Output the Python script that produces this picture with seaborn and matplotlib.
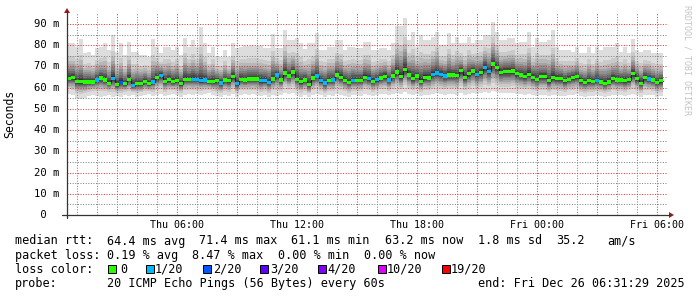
import numpy as np
import pandas as pd
import matplotlib
matplotlib.use("Agg")
import matplotlib.pyplot as plt
import seaborn as sns
from matplotlib.patches import Rectangle
from matplotlib.transforms import blended_transform_factory

# ---------------- data ----------------
median_ms = [64.4, 64.7, 63.0, 62.9, 62.7, 62.7, 62.7, 63.6, 64.6, 63.6,
             62.1, 64.3, 61.4, 62.5, 61.8, 64.0, 61.0, 61.8, 61.8, 63.0,
             61.8, 62.7, 64.9, 65.7, 62.9, 63.8, 62.9, 63.3, 61.8, 64.0,
             64.0, 64.0, 64.0, 63.3, 63.6, 62.9, 62.9, 63.3, 62.2, 63.6,
             63.3, 65.2, 61.8, 64.0, 63.6, 64.1, 64.1, 64.1, 63.3, 63.3,
             62.5, 64.1, 66.0, 63.6, 66.9, 65.5, 67.4, 64.0, 62.9, 63.6,
             61.4, 64.6, 65.5, 63.3, 62.2, 63.5, 63.6, 66.0, 64.9, 63.5,
             62.5, 63.5, 63.5, 63.5, 64.9, 64.3, 63.0, 63.8, 64.6, 65.4,
             63.6, 65.5, 67.4, 65.2, 68.7, 66.0, 64.4, 65.5, 63.0, 64.9,
             64.6, 66.3, 66.9, 66.3, 65.5, 66.0, 66.0, 65.7, 68.0, 64.9,
             66.5, 67.9, 66.3, 67.1, 69.6, 67.7, 71.2, 69.4, 67.1, 67.6,
             67.6, 67.9, 66.5, 66.0, 65.4, 66.2, 64.9, 64.0, 65.1, 65.1,
             63.3, 64.7, 64.4, 64.3, 63.3, 64.0, 64.7, 65.2, 63.3, 62.4,
             63.3, 62.9, 63.5, 62.7, 62.1, 62.7, 64.3, 63.6, 63.6, 63.3,
             63.8, 66.5, 64.3, 62.1, 64.9, 64.1, 63.6, 62.4, 63.2]

max_ms = [80.9, 80.9, 79.4, 82.9, 76.2, 77.0, 75.4, 78.6, 79.4, 81.2,
          77.8, 84.8, 77.0, 80.9, 75.4, 81.7, 77.0, 77.0, 75.4, 75.4,
          74.6, 82.8, 79.4, 76.2, 79.4, 79.4, 77.8, 79.4, 75.4, 83.6,
          79.4, 82.5, 79.4, 88.8, 80.9, 76.2, 79.4, 74.6, 74.6, 77.8,
          74.6, 80.9, 78.6, 79.4, 79.6, 79.6, 79.6, 79.6, 79.6, 78.6,
          78.6, 85.1, 78.6, 78.6, 87.2, 82.5, 82.5, 83.3, 80.9, 78.1,
          80.9, 80.9, 85.6, 77.8, 77.8, 79.4, 79.4, 82.5, 82.5, 77.8,
          79.4, 79.4, 78.6, 78.6, 81.7, 81.7, 77.8, 77.8, 78.6, 78.6,
          77.8, 81.2, 89.1, 89.1, 92.7, 82.5, 86.4, 79.4, 84.8, 82.5,
          82.5, 84.0, 86.4, 80.1, 80.1, 85.6, 80.9, 84.0, 80.9, 80.9,
          84.0, 80.9, 82.5, 82.5, 84.8, 84.8, 91.1, 86.4, 82.5, 82.5,
          83.3, 83.3, 80.9, 81.7, 81.7, 86.4, 79.4, 83.3, 81.7, 81.7,
          82.5, 87.2, 79.4, 77.8, 77.8, 77.8, 77.0, 79.4, 76.2, 76.2,
          79.4, 76.2, 79.4, 77.8, 79.4, 79.4, 79.4, 80.9, 77.0, 79.4,
          76.2, 82.8, 77.8, 77.0, 77.8, 77.8, 76.2, 76.2, 76.2]

min_ms = [57.0, 56.5, 55.0, 54.5, 55.0, 56.0, 56.5, 56.0, 55.5, 56.0,
          56.5, 55.5, 56.0, 55.5, 56.5, 56.0, 56.5, 55.5, 56.0, 56.5,
          57.0, 56.0, 56.5, 57.0, 56.0, 56.5, 57.0, 56.5, 55.5, 56.5,
          57.0, 56.5, 57.0, 56.5, 57.0, 57.5, 56.5, 56.0, 55.5, 56.5,
          56.0, 57.0, 55.5, 56.5, 57.0, 56.5, 57.0, 56.5, 56.0, 56.5,
          55.5, 56.5, 56.0, 56.5, 57.5, 57.0, 57.5, 56.5, 55.5, 56.5,
          55.5, 56.5, 57.0, 56.5, 55.5, 56.5, 56.0, 57.0, 56.5, 56.0,
          55.5, 56.5, 56.5, 56.0, 57.0, 56.5, 56.0, 56.5, 57.0, 57.0,
          56.5, 57.0, 57.5, 57.0, 58.0, 57.0, 56.5, 57.0, 56.0, 56.5,
          56.5, 57.0, 57.5, 57.0, 56.5, 57.0, 57.0, 56.5, 57.5, 56.5,
          57.0, 57.5, 57.0, 57.5, 58.0, 57.5, 58.5, 58.0, 57.5, 57.5,
          57.5, 57.5, 57.0, 57.0, 56.5, 57.0, 56.5, 56.0, 56.5, 56.5,
          56.0, 56.5, 56.5, 56.0, 56.0, 56.5, 56.5, 57.0, 56.0, 55.5,
          56.0, 56.0, 56.5, 56.0, 55.5, 56.0, 56.5, 56.5, 56.5, 56.0,
          56.5, 57.0, 56.5, 55.5, 56.5, 56.5, 56.5, 55.5, 56.0]

loss_of_20 = [0, 0, 0, 0, 0, 0, 0, 1, 0, 0,
              0, 1, 0, 2, 0, 0, 1, 0, 0, 0,
              0, 1, 0, 1, 0, 0, 0, 0, 0, 0,
              0, 1, 1, 1, 1, 0, 0, 0, 1, 0,
              0, 0, 1, 0, 0, 0, 0, 0, 1, 1,
              1, 0, 1, 0, 0, 0, 0, 0, 0, 0,
              0, 0, 1, 1, 1, 0, 1, 0, 0, 0,
              0, 1, 0, 0, 0, 1, 0, 1, 0, 0,
              1, 0, 0, 0, 0, 0, 0, 0, 0, 0,
              0, 1, 1, 1, 1, 0, 0, 0, 0, 0,
              0, 0, 1, 0, 1, 1, 0, 0, 0, 0,
              0, 0, 0, 0, 0, 0, 0, 0, 0, 0,
              0, 0, 0, 0, 0, 0, 0, 0, 0, 0,
              0, 0, 1, 0, 0, 0, 0, 0, 0, 0,
              0, 0, 0, 0, 0, 1, 0, 0, 0]

loss_levels = [0, 1, 2, 3, 4, 10, 19]
loss_labels = ["0", "1/20", "2/20", "3/20", "4/20", "10/20", "19/20"]
loss_colors = ["#26ff00", "#00b8ff", "#0059ff", "#5e00ff", "#7e00ff", "#dd00ff", "#ff0000"]

y_ticks = [0, 10, 20, 30, 40, 50, 60, 70, 80, 90]
y_labels = [" 0", "10 m", "20 m", "30 m", "40 m", "50 m", "60 m", "70 m", "80 m", "90 m"]
x_labels = ["Thu 06:00", "Thu 12:00", "Thu 18:00", "Fri 00:00", "Fri 06:00"]

row_rtt = ["median rtt:", "64.4 ms avg", "71.4 ms max", "61.1 ms min", "63.2 ms now",
           "1.8 ms sd", "35.2", "am/s"]
row_loss = ["packet loss:", "0.19 % avg", "8.47 % max", "0.00 % min", "0.00 % now"]
row_probe = ["probe:", "20 ICMP Echo Pings (56 Bytes) every 60s",
             "end: Fri Dec 26 06:31:29 2025"]

step_hours = 0.2          # 12 minute consolidation
window_hours = 30
start_offset_to_hour = 1 - (31 + 29 / 60) / 60   # start 00:31:29

# ---------------- styling ----------------
W, H = 697, 297
sns.set_theme(style="white")
plt.rcParams["font.family"] = ["DejaVu Sans Mono", "DejaVu Sans"]

fig = plt.figure(figsize=(W / 100, H / 100), dpi=100, facecolor="white")
ax_l, ax_r, ax_t, ax_b = 67, 667, 13.4, 215
ax = fig.add_axes([ax_l / W, 1 - ax_b / H, (ax_r - ax_l) / W, (ax_b - ax_t) / H])
ax.set_facecolor("white")
ax.set_xlim(0, window_hours)
ax.set_ylim(0, 95)

def fx(px):
    return px / W

def fy(py):
    return 1 - py / H

med = np.array(median_ms)
mx = np.array(max_ms)
mn = np.array(min_ms)
n = len(med)
t = np.arange(n) * step_hours
t_edge = np.append(t, n * step_hours)

def ext(a):
    return np.append(a, a[-1])

# smoke: 20 sorted pings approximated between min / median / max
lower_frac = [1.0, 0.7, 0.57, 0.47, 0.39, 0.32, 0.25, 0.19, 0.13, 0.07]
upper_frac = [0.05, 0.10, 0.15, 0.20, 0.26, 0.33, 0.40, 0.50, 0.63, 1.0]
pings = [med - f * (med - mn) for f in lower_frac] + [med + f * (mx - med) for f in upper_frac]
half = 10
for k in range(half):
    g = (int(190 / half * (half - (k + 1))) + 50) / 255
    ax.fill_between(t_edge, ext(pings[k]), ext(pings[19 - k]), step="post",
                    color=(g, g, g), linewidth=0, zorder=1)

# median line
df = pd.DataFrame({"t": t_edge, "median": ext(med)})
sns.lineplot(data=df, x="t", y="median", ax=ax, drawstyle="steps-post",
             color="#202020", linewidth=0.8, zorder=3, legend=False)

# loss-coloured median boxes
def loss_color(v):
    for lvl, c in zip(loss_levels, loss_colors):
        if v <= lvl:
            return c
    return loss_colors[-1]

px_per_ms = (ax_b - ax_t) / 95
box_h = 3.2 / px_per_ms
ax.bar(t, box_h, bottom=med - box_h / 2, width=step_hours, align="edge",
       color=[loss_color(v) for v in loss_of_20], linewidth=0, zorder=4)

# grid
minor_x = start_offset_to_hour + np.arange(window_hours)
major_x = [v for k, v in enumerate(minor_x) if (k + 1) % 3 == 0]
ax.set_xticks(major_x)
ax.set_xticklabels([x_labels[(i - 1) // 2] if i % 2 == 1 else "" for i in range(len(major_x))])
ax.set_xticks(minor_x, minor=True)
ax.set_yticks(y_ticks)
ax.set_yticks(np.arange(5, 95, 10), minor=True)
ax.grid(which="minor", color=(0.5, 0.5, 0.5, 0.3), linestyle=(0, (1, 1.6)), linewidth=0.72)
ax.grid(which="major", color=(0.9, 0.2, 0.2, 0.32), linestyle=(0, (1, 1.6)), linewidth=0.72)
ax.set_axisbelow(False)
for gl in ax.get_xgridlines() + ax.get_ygridlines():
    gl.set_zorder(2.5)

ax.tick_params(axis="x", which="major", length=2, width=0.7, direction="inout",
               color="#333333", labelsize=7.2, pad=2.8, labelcolor="#000000")
ax.tick_params(axis="x", which="minor", length=0)
ax.tick_params(axis="y", which="major", length=2, width=0.7, direction="inout",
               color="#333333", labelleft=False)
ax.tick_params(axis="y", which="minor", length=0)
for s in ax.spines.values():
    s.set_visible(False)
ax.set_xlabel("")
ax.set_ylabel("")

# y tick labels (left aligned in a fixed-width column like rrdtool)
ytr = blended_transform_factory(ax.transAxes, ax.transData)
for v, lab in zip(y_ticks, y_labels):
    ax.text((34 - ax_l) / (ax_r - ax_l), v, lab, transform=ytr, ha="left", va="center",
            fontsize=7.6, color="#000000", clip_on=False)

# axes lines with arrows
axis_col = "#333333"
arrow_col = "#9a1c1c"
fig.add_artist(plt.Line2D([fx(62), fx(670)], [fy(ax_b), fy(ax_b)], color=axis_col, lw=0.9))
fig.add_artist(plt.Line2D([fx(ax_l), fx(ax_l)], [fy(ax_b + 3), fy(11)], color=axis_col, lw=0.9))
fig.add_artist(plt.Polygon([[fx(669), fy(ax_b - 3)], [fx(669), fy(ax_b + 3)], [fx(674), fy(ax_b)]],
                           closed=True, color=arrow_col, lw=0))
fig.add_artist(plt.Polygon([[fx(ax_l - 3), fy(13)], [fx(ax_l + 3), fy(13)], [fx(ax_l), fy(8)]],
                           closed=True, color=arrow_col, lw=0))

# y axis title and watermark
fig.text(fx(10), fy(113.5), "Seconds", rotation=90, ha="center", va="center",
         fontsize=8.3, color="#000000")
fig.text(fx(687), fy(5), "RRDTOOL / TOBI OETIKER", rotation=270, ha="center", va="top",
         fontsize=6.0, color="#c4c4c4")

# legend block
leg_fs = 8.5
baselines = [244.5, 258.6, 272.7, 286.8]
rtt_x = [15, 106.7, 199.3, 291.1, 385.4, 478.5, 556.3, 607.2]
for s, x in zip(row_rtt, rtt_x):
    fig.text(fx(x), fy(baselines[0]), s, ha="left", va="baseline", fontsize=leg_fs, color="#000000")
loss_x = [15, 106.7, 192.5, 278.2, 364.0]
for s, x in zip(row_loss, loss_x):
    fig.text(fx(x), fy(baselines[1]), s, ha="left", va="baseline", fontsize=leg_fs, color="#000000")
fig.text(fx(15), fy(baselines[2]), "loss color:", ha="left", va="baseline", fontsize=leg_fs, color="#000000")
square_x = [108, 146, 203, 260, 318, 378, 442]
label_x = [120, 155, 213.5, 270, 327.5, 386.5, 450.5]
for sx, lx, lab, col in zip(square_x, label_x, loss_labels, loss_colors):
    fig.add_artist(Rectangle((fx(sx), fy(273)), 8 / W, 8 / H, facecolor=col,
                             edgecolor="#000000", linewidth=0.7))
    fig.text(fx(lx), fy(baselines[2]), lab, ha="left", va="baseline", fontsize=leg_fs, color="#000000")
probe_x = [15, 106.7, 477.6]
for s, x in zip(row_probe, probe_x):
    fig.text(fx(x), fy(baselines[3]), s, ha="left", va="baseline", fontsize=leg_fs, color="#000000")

fig.savefig("out.png", dpi=100, facecolor="white")
